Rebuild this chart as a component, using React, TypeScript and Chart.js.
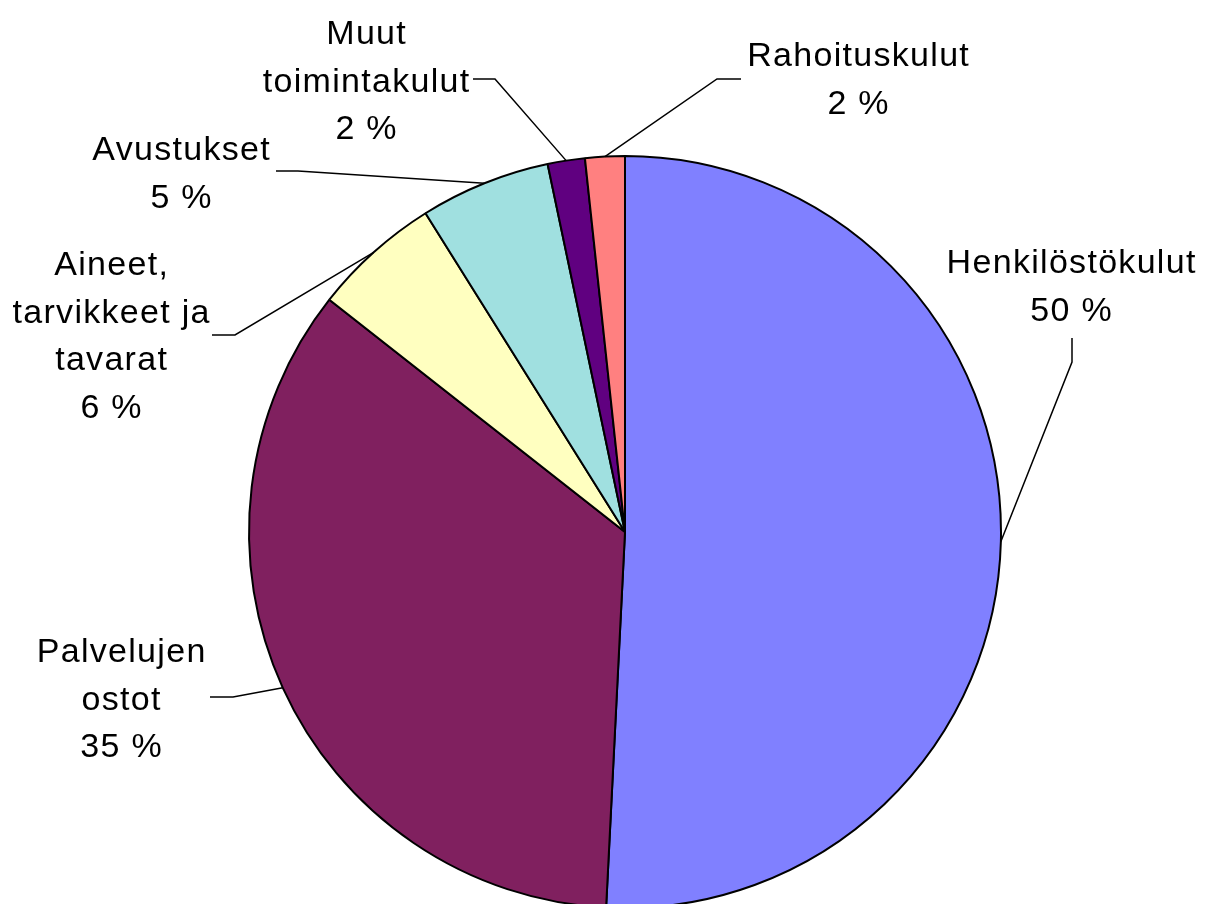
import React, { useEffect, useRef } from "react";
import { Chart, registerables } from "chart.js";

Chart.register(...registerables);

// ---- data ----
const categories = [
  "Henkilöstökulut",
  "Palvelujen\nostot",
  "Aineet,\ntarvikkeet ja\ntavarat",
  "Avustukset",
  "Muut\ntoimintakulut",
  "Rahoituskulut",
];
const values = [50.8, 34.8, 5.5, 5.6, 1.6, 1.7];
const percentLabels = ["50 %", "35 %", "6 %", "5 %", "2 %", "2 %"];
const colors = ["#8080FF", "#80205F", "#FFFFC0", "#A0E0E0", "#600080", "#FF8080"];

// ---- label layout (annotation placement, not data) ----
const labelLayout = [
  { cx: 1071, y0: 273, leader: [[1072, 338], [1072, 362]] },
  { cx: 121, y0: 662, leader: [[210, 697], [233, 697]] },
  { cx: 111, y0: 275, leader: [[212, 335], [235, 335]] },
  { cx: 181, y0: 160, leader: [[276, 171], [298, 171]] },
  { cx: 366, y0: 44, leader: [[473, 79], [495, 79]] },
  { cx: 858, y0: 66, leader: [[741, 79], [717, 79]] },
];

const W = 1214;
const H = 1000;

const labelPlugin = {
  id: "excelLabels",
  afterDatasetsDraw(chart: any) {
    const ctx = chart.ctx as CanvasRenderingContext2D;
    const meta = chart.getDatasetMeta(0);
    ctx.save();
    meta.data.forEach((arc: any, i: number) => {
      const { x, y, startAngle, endAngle, outerRadius } = arc.getProps(
        ["x", "y", "startAngle", "endAngle", "outerRadius"],
        true
      );
      const mid = (startAngle + endAngle) / 2;
      const ex = x + Math.cos(mid) * outerRadius;
      const ey = y + Math.sin(mid) * outerRadius;
      const lay = labelLayout[i];
      // leader line
      ctx.beginPath();
      ctx.strokeStyle = "#000";
      ctx.lineWidth = 1.5;
      ctx.moveTo(lay.leader[0][0], lay.leader[0][1]);
      for (let k = 1; k < lay.leader.length; k++) ctx.lineTo(lay.leader[k][0], lay.leader[k][1]);
      ctx.lineTo(ex, ey);
      ctx.stroke();
      // text
      const lines = categories[i].split("\n").concat([percentLabels[i]]);
      ctx.fillStyle = "#000";
      ctx.font = '34px "Liberation Sans", Arial, sans-serif';
      (ctx as any).letterSpacing = "1.3px";
      ctx.textAlign = "center";
      ctx.textBaseline = "alphabetic";
      lines.forEach((ln, j) => {
        ctx.fillText(ln, lay.cx + 0.65, lay.y0 + j * 47.5);
      });
    });
    ctx.restore();
  },
};

export default function App() {
  const ref = useRef<HTMLCanvasElement | null>(null);
  useEffect(() => {
    if (!ref.current) return;
    const chart = new Chart(ref.current, {
      type: "pie",
      data: {
        labels: categories.map((c) => c.replace(/\n/g, " ")),
        datasets: [
          {
            data: values,
            backgroundColor: colors,
            borderColor: "#000",
            borderWidth: 2,
          },
        ],
      },
      options: {
        responsive: false,
        animation: false,
        radius: 376,
        layout: { padding: { left: 249, right: W - 1001, top: 156, bottom: H - 908 } },
        plugins: {
          legend: { display: false },
          tooltip: { enabled: false },
        },
      },
      plugins: [labelPlugin],
    });
    return () => chart.destroy();
  }, []);
  return (
    <div
      style={{
        position: "fixed",
        left: 0,
        top: 0,
        width: W,
        height: 904,
        overflow: "hidden",
        background: "#fff",
      }}
    >
      <canvas ref={ref} width={W} height={H} style={{ display: "block", width: W, height: H }} />
    </div>
  );
}
